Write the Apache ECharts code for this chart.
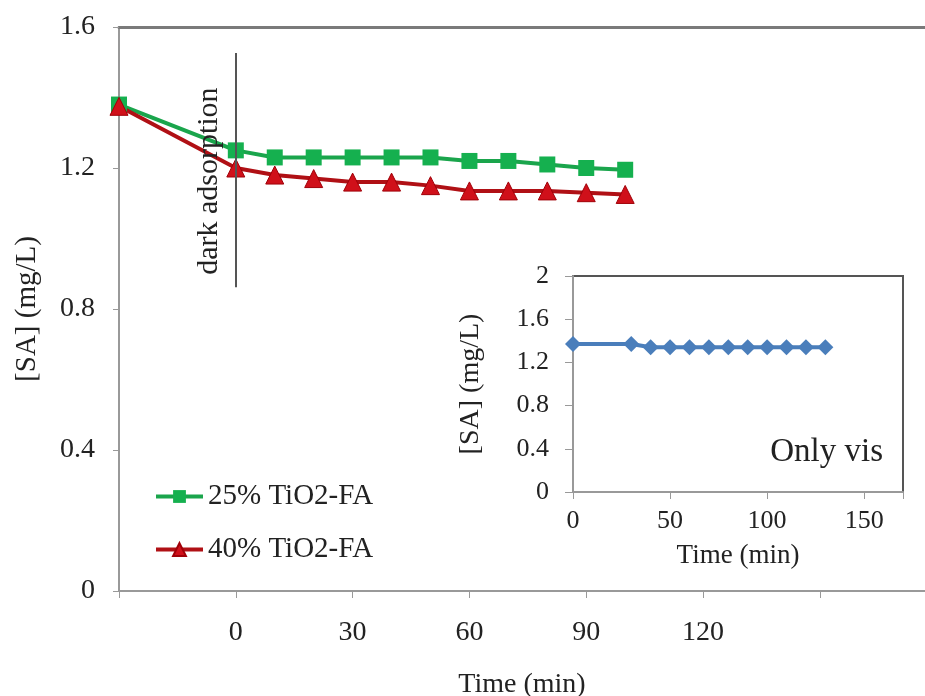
<!DOCTYPE html>
<html>
<head>
<meta charset="utf-8">
<script src="https://cdn.jsdelivr.net/npm/echarts@6/dist/echarts.min.js"></script>
<style>
  html, body { margin: 0; padding: 0; background: #fff; }
  #chart { width: 925px; height: 696px; }
</style>
</head>
<body>
<div id="chart"></div>
<script>
// main chart data (time in min, [SA] in mg/L)
const timeMain = [-30, 0, 10, 20, 30, 40, 50, 60, 70, 80, 90, 100];
const sa25 = [1.38, 1.25, 1.23, 1.23, 1.23, 1.23, 1.23, 1.22, 1.22, 1.21, 1.20, 1.195];
const sa40 = [1.375, 1.20, 1.18, 1.17, 1.16, 1.16, 1.15, 1.135, 1.135, 1.135, 1.13, 1.125];
const mainXLabels = [0, 30, 60, 90, 120];

// inset data (only vis)
const timeVis = [0, 30, 40, 50, 60, 70, 80, 90, 100, 110, 120, 130];
const saVis = [1.37, 1.37, 1.34, 1.34, 1.34, 1.34, 1.34, 1.34, 1.34, 1.34, 1.34, 1.34];
const visXLabels = [0, 50, 100, 150];

// dark adsorption marker (t = 0)
const darkLine = [0, 0.862, 1.526];

const font = "'Liberation Serif', 'Times New Roman', serif";
const txt = '#222';

const pairs = (xs, ys) => xs.map((x, i) => [x, ys[i]]);
const numFmt = v => String(+v.toFixed(1));

const myEcharts = echarts.init(document.getElementById('chart'));

const option = {
    backgroundColor: '#fff',
    textStyle: { fontFamily: font, color: txt },
    grid: [
        // main plot (runs off the right edge)
        { left: 119, top: 27, right: 0, bottom: 105, outerBoundsMode: 'none', containLabel: false },
        // inset
        {
            left: 573, top: 276, right: 22, bottom: 204, outerBoundsMode: 'none', containLabel: false,
            show: true, backgroundColor: '#fff', borderColor: '#555', borderWidth: 2
        }
    ],
    legend: {
        data: ['25% TiO2-FA', '40% TiO2-FA'],
        orient: 'vertical',
        left: 154,
        top: 482,
        padding: 0,
        itemWidth: 47,
        itemHeight: 16,
        itemGap: 24,
        lineStyle: { width: 4 },
        textStyle: { fontFamily: font, fontSize: 29, color: txt }
    },
    xAxis: [
        {
            gridIndex: 0, type: 'value', min: -30, max: 177, interval: 30,
            name: 'Time (min)', nameLocation: 'middle', nameGap: 80,
            nameTextStyle: { fontFamily: font, fontSize: 28, color: txt },
            axisLine: { onZero: false, lineStyle: { color: '#999', width: 2 } },
            axisTick: { length: 7, lineStyle: { color: '#999', width: 1 } },
            axisLabel: {
                margin: 28, fontSize: 28, color: txt, fontFamily: font,
                formatter: v => mainXLabels.includes(v) ? String(v) : ''
            },
            splitLine: { show: false }
        },
        {
            gridIndex: 1, type: 'value', min: 0, max: 170, interval: 50,
            name: 'Time (min)', nameLocation: 'middle', nameGap: 50,
            nameTextStyle: { fontFamily: font, fontSize: 27, color: txt },
            axisLine: { onZero: false, lineStyle: { color: '#999', width: 2 } },
            axisTick: { length: 7, lineStyle: { color: '#999' } },
            axisLabel: {
                margin: 16, fontSize: 26, color: txt, fontFamily: font,
                formatter: v => visXLabels.includes(v) ? String(v) : ''
            },
            splitLine: { show: false }
        },
        {
            // top frame line of the main plot
            gridIndex: 0, type: 'value', position: 'top', min: -30, max: 177,
            axisLine: { onZero: false, lineStyle: { color: '#7a7a7a', width: 3 } },
            axisTick: { show: false }, axisLabel: { show: false }, splitLine: { show: false }
        }
    ],
    yAxis: [
        {
            gridIndex: 0, type: 'value', min: 0, max: 1.6, interval: 0.4,
            name: '[SA] (mg/L)', nameLocation: 'middle', nameGap: 77, nameRotate: 90,
            nameTextStyle: { fontFamily: font, fontSize: 29, color: txt },
            axisLine: { show: true, onZero: false, lineStyle: { color: '#999', width: 2 } },
            axisTick: { show: true, length: 6, lineStyle: { color: '#999' } },
            axisLabel: { margin: 24, fontSize: 28, color: txt, fontFamily: font, formatter: numFmt },
            splitLine: { show: false }
        },
        {
            gridIndex: 1, type: 'value', min: 0, max: 2, interval: 0.4,
            name: '[SA] (mg/L)', nameLocation: 'middle', nameGap: 88, nameRotate: 90,
            nameTextStyle: { fontFamily: font, fontSize: 28, color: txt },
            axisLine: { show: true, onZero: false, lineStyle: { color: '#999', width: 2 } },
            axisTick: { show: true, length: 8, lineStyle: { color: '#999' } },
            axisLabel: { margin: 24, fontSize: 26, color: txt, fontFamily: font, formatter: numFmt },
            splitLine: { show: false }
        }
    ],
    graphic: [
        {
            type: 'text', right: 42, top: 436, z: 100,
            style: { text: 'Only vis', fontFamily: font, fontSize: 33, fill: txt }
        }
    ],
    series: [
        {
            name: '25% TiO2-FA', type: 'line', xAxisIndex: 0, yAxisIndex: 0,
            data: pairs(timeMain, sa25),
            symbol: 'rect', symbolSize: 16,
            lineStyle: { color: '#1aa54c', width: 4 },
            itemStyle: { color: '#15b04f' },
            markLine: {
                silent: true, symbol: 'none',
                lineStyle: { color: '#555', width: 2, type: 'solid' },
                label: {
                    show: true, position: 'insideMiddleTop', distance: 12,
                    padding: [0, 22, 0, 0],
                    formatter: 'dark adsorption',
                    fontFamily: font, fontSize: 30, color: txt
                },
                data: [[{ coord: [darkLine[0], darkLine[1]] }, { coord: [darkLine[0], darkLine[2]] }]]
            }
        },
        {
            name: '40% TiO2-FA', type: 'line', xAxisIndex: 0, yAxisIndex: 0,
            data: pairs(timeMain, sa40),
            symbol: 'triangle', symbolSize: 18,
            lineStyle: { color: '#b01015', width: 4 },
            itemStyle: { color: '#d0101a', borderColor: '#a00008', borderWidth: 1 }
        },
        {
            name: 'Only vis', type: 'line', xAxisIndex: 1, yAxisIndex: 1,
            data: pairs(timeVis, saVis),
            symbol: 'diamond', symbolSize: 16,
            lineStyle: { color: '#4a7ebb', width: 4 },
            itemStyle: { color: '#4a7ebb' }
        }
    ]
};

myEcharts.setOption(option);
</script>
</body>
</html>
